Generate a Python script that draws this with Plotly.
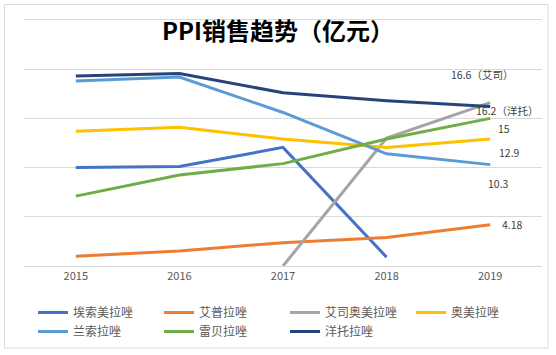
import plotly.graph_objects as go

years = ["2015", "2016", "2017", "2018", "2019"]
series_names = ["埃索美拉唑", "艾普拉唑", "艾司奥美拉唑", "奥美拉唑", "兰索拉唑", "雷贝拉唑", "洋托拉唑"]
esomeprazole = [10.0, 10.1, 12.05, 0.9, None]
ilaprazole = [1.0, 1.52, 2.37, 2.9, 4.18]
esomeprazole_2 = [None, None, 0.0, 13.0, 16.6]
omeprazole = [13.7, 14.1, 12.9, 12.05, 12.9]
lansoprazole = [18.8, 19.2, 15.6, 11.4, 10.3]
rabeprazole = [7.1, 9.24, 10.4, 12.9, 15.0]
pantoprazole = [19.3, 19.56, 17.6, 16.8, 16.2]
series_values = [esomeprazole, ilaprazole, esomeprazole_2, omeprazole,
                 lansoprazole, rabeprazole, pantoprazole]
colors = ["#4472C4", "#ED7D31", "#A5A5A5", "#FFC000", "#5B9BD5", "#70AD47", "#264478"]
y_ticks = [0, 5, 10, 15, 20, 25]

# 2019 data labels
label_series = [2, 6, 5, 3, 4, 1]
label_texts = ["16.6（艾司）", "16.2（洋托）", "15", "12.9", "10.3", "4.18"]
label_shifts = [(-8, 28), (17, -4), (14, -10), (19, -13), (8, -19), (22, 0)]

FONT = "Noto Sans CJK SC, Noto Sans, DejaVu Sans, sans-serif"

PL, PR, PT, PB = 24, 14, 16, 89
W, H = 556, 355
PW, PH = W - PL - PR, H - PT - PB


def px_to_paper_x(px):
    return (px - PL) / PW


def px_to_paper_y(py):
    return (H - PB - py) / PH


fig = go.Figure()
for name, vals, col in zip(series_names, series_values, colors):
    fig.add_trace(go.Scatter(
        x=years, y=vals, name=name, mode="lines",
        line=dict(color=col, width=3),
        connectgaps=False,
    ))

annotations = []
for idx, txt, (dx, dy) in zip(label_series, label_texts, label_shifts):
    annotations.append(dict(
        x=4, y=series_values[idx][-1], xref="x", yref="y",
        text=txt, showarrow=False, xshift=dx, yshift=dy,
        font=dict(size=10.5, color="#404040", family=FONT),
    ))

shapes = [dict(
    type="rect", xref="paper", yref="paper",
    x0=px_to_paper_x(4.5), x1=px_to_paper_x(548),
    y0=px_to_paper_y(348), y1=px_to_paper_y(4.5),
    line=dict(color="#d9d9d9", width=1),
)]

fig.update_layout(
    width=W, height=H,
    margin=dict(l=PL, r=PR, t=PT, b=PB, autoexpand=False),
    paper_bgcolor="white", plot_bgcolor="white",
    font=dict(family=FONT, color="#595959", size=11),
    title=dict(
        text="<b>PPI销售趋势（亿元）</b>",
        x=0.5, xanchor="center",
        y=1 - 32 / H, yanchor="middle",
        font=dict(size=24, color="#000000", family=FONT),
    ),
    showlegend=True,
    legend=dict(
        orientation="h",
        x=px_to_paper_x(33), xanchor="left",
        y=px_to_paper_y(298), yanchor="top",
        entrywidth=81, entrywidthmode="pixels",
        font=dict(size=12, color="#595959", family=FONT),
        itemwidth=30, tracegroupgap=0,
        bgcolor="rgba(0,0,0,0)",
    ),
    xaxis=dict(
        type="category", range=[-0.5, 4.5],
        showgrid=False, showline=True, linecolor="#d9d9d9", linewidth=1,
        ticks="", tickfont=dict(size=11, color="#595959", family=FONT),
        fixedrange=True,
    ),
    yaxis=dict(
        range=[0, 25.4], tickvals=y_ticks,
        showgrid=True, gridcolor="#d9d9d9", gridwidth=1,
        zeroline=False, showticklabels=False, showline=False, ticks="",
        fixedrange=True,
    ),
    annotations=annotations,
    shapes=shapes,
)

fig.write_html(
    "out.html",
    config={"displayModeBar": False, "staticPlot": True},
    post_script="document.body.style.margin='0';document.body.style.overflow='hidden';",
)
